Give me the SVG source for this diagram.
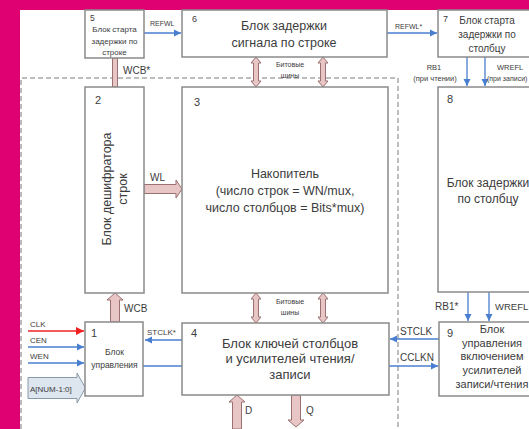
<svg xmlns="http://www.w3.org/2000/svg" width="529" height="429" viewBox="0 0 529 429">
<defs>
<style>
.box{fill:#fff;stroke:#8a8a8a;stroke-width:1.5}
.t{font-family:"Liberation Sans",Arial,sans-serif;fill:#3c3c3c}
.dash{fill:none;stroke:#a8a8a8;stroke-width:1.5;stroke-dasharray:5,3}
.blue{fill:none;stroke:#4a7fd0;stroke-width:1.3}
.red{fill:none;stroke:#f02020;stroke-width:1.5}
.pink{fill:#e8c6c6;stroke:#9a7070;stroke-width:1}
</style>
<marker id="ab" markerWidth="8" markerHeight="8" refX="7" refY="4" orient="auto" markerUnits="userSpaceOnUse">
<path d="M0,0.5 L7,4 L0,7.5 Z" fill="#4a7fd0"/>
</marker>
<marker id="ar" markerWidth="9" markerHeight="9" refX="8" refY="4.5" orient="auto" markerUnits="userSpaceOnUse">
<path d="M0,0.5 L8,4.5 L0,8.5 Z" fill="#f02020"/>
</marker>
</defs>
<rect x="0" y="0" width="529" height="429" fill="#df0072"/>
<rect x="20" y="10" width="509" height="419" fill="#ffffff"/>
<path class="dash" d="M21,429 V78 H398 V429"/>

<g id="connectors">
<line class="blue" x1="144" y1="33" x2="181" y2="33" marker-end="url(#ab)"/>
<text class="t" x="150" y="26" font-size="7">REFWL</text>
<line class="blue" x1="387" y1="33" x2="437" y2="33" marker-end="url(#ab)"/>
<text class="t" x="395" y="29" font-size="7">REFWL*</text>
<rect class="pink" x="112.5" y="58" width="5" height="29"/>
<text class="t" x="123" y="74" font-size="10">WCB*</text>
<path class="pink" d="M256,57 L261,63 L258.5,63 L258.5,81 L261,81 L256,87 L251,81 L253.5,81 L253.5,63 L251,63 Z"/>
<path class="pink" d="M323,57 L328,63 L325.5,63 L325.5,81 L328,81 L323,87 L318,81 L320.5,81 L320.5,63 L318,63 Z"/>
<text class="t" x="290" y="67" font-size="7" text-anchor="middle">Битовые</text>
<text class="t" x="290" y="78" font-size="7" text-anchor="middle">шины</text>
<path class="pink" d="M256,293 L261,299 L258.5,299 L258.5,317 L261,317 L256,323 L251,317 L253.5,317 L253.5,299 L251,299 Z"/>
<path class="pink" d="M323,293 L328,299 L325.5,299 L325.5,317 L328,317 L323,323 L318,317 L320.5,317 L320.5,299 L318,299 Z"/>
<text class="t" x="290" y="304" font-size="7" text-anchor="middle">Битовые</text>
<text class="t" x="290" y="315" font-size="7" text-anchor="middle">шины</text>
<path class="pink" d="M144,184.5 L176,184.5 L176,180 L182,189 L176,198 L176,193.5 L144,193.5 Z"/>
<text class="t" x="150" y="181" font-size="10">WL</text>
<path class="pink" d="M110.5,322 L110.5,300 L107,300 L115,293 L123,300 L119.5,300 L119.5,322 Z"/>
<text class="t" x="124" y="312" font-size="10">WCB</text>
<line class="blue" x1="467" y1="57" x2="467" y2="86" marker-end="url(#ab)"/>
<line class="blue" x1="485" y1="57" x2="485" y2="86" marker-end="url(#ab)"/>
<text class="t" x="434" y="70" font-size="7.5" text-anchor="middle">RB1</text>
<text class="t" x="435" y="81" font-size="7.5" text-anchor="middle">(при чтении)</text>
<text class="t" x="497" y="70" font-size="7.5">WREFL</text>
<text class="t" x="487" y="81" font-size="7">(при записи)</text>
<line class="blue" x1="468" y1="292" x2="468" y2="321" marker-end="url(#ab)"/>
<line class="blue" x1="489" y1="292" x2="489" y2="321" marker-end="url(#ab)"/>
<text class="t" x="435" y="310" font-size="10">RB1*</text>
<text class="t" x="495" y="310" font-size="9.5">WREFL</text>
<line class="red" x1="28" y1="331" x2="84" y2="331" marker-end="url(#ar)"/>
<text class="t" x="30" y="327" font-size="8">CLK</text>
<line class="blue" x1="28" y1="347" x2="84" y2="347" marker-end="url(#ab)"/>
<text class="t" x="30" y="343" font-size="8">CEN</text>
<line class="blue" x1="28" y1="363" x2="84" y2="363" marker-end="url(#ab)"/>
<text class="t" x="30" y="359" font-size="8">WEN</text>
<path d="M28,377.5 L77,377.5 L77,373 L85.5,388 L77,403 L77,398.5 L28,398.5 Z" fill="#dde5ef" stroke="#8a98ac" stroke-width="1"/>
<text class="t" x="30" y="391.5" font-size="8">A[NUM-1:0]</text>
<line class="blue" x1="182" y1="340" x2="145" y2="340" marker-end="url(#ab)"/>
<text class="t" x="147" y="335" font-size="8">STCLK*</text>
<line class="blue" x1="439" y1="339" x2="390" y2="339" marker-end="url(#ab)"/>
<text class="t" x="400" y="335" font-size="10">STCLK</text>
<line class="blue" x1="143" y1="366" x2="438" y2="366" marker-end="url(#ab)"/>
<text class="t" x="400" y="361" font-size="10">CCLKN</text>
<path class="pink" d="M232.5,429 L232.5,402 L229,402 L237,395 L245,402 L241.5,402 L241.5,429 Z"/>
<text class="t" x="245" y="414" font-size="10">D</text>
<path class="pink" d="M291.5,395 L291.5,420 L288,420 L296,427 L304,420 L300.5,420 L300.5,395 Z"/>
<text class="t" x="306" y="414" font-size="10">Q</text>
</g>

<g id="block5">
<rect class="box" x="85" y="10" width="59" height="48"/>
<text class="t" x="90" y="21" font-size="8.5">5</text>
<text class="t" x="114.5" y="32" font-size="8" text-anchor="middle">Блок старта</text>
<text class="t" x="114.5" y="44" font-size="8" text-anchor="middle">задержки по</text>
<text class="t" x="114.5" y="55" font-size="8" text-anchor="middle">строке</text>
</g>
<g id="block6">
<rect class="box" x="182" y="10" width="205" height="47"/>
<text class="t" x="192" y="22" font-size="9">6</text>
<text class="t" x="284" y="30" font-size="12.5" text-anchor="middle">Блок задержки</text>
<text class="t" x="284" y="47" font-size="12.5" text-anchor="middle">сигнала по строке</text>
</g>
<g id="block7">
<rect class="box" x="438" y="10" width="120" height="47"/>
<text class="t" x="443" y="22" font-size="9">7</text>
<text class="t" x="487" y="24" font-size="10" text-anchor="middle">Блок старта</text>
<text class="t" x="487" y="38" font-size="10" text-anchor="middle">задержки по</text>
<text class="t" x="487" y="52" font-size="10" text-anchor="middle">столбцу</text>
</g>
<g id="block2">
<rect class="box" x="85" y="87" width="59" height="206"/>
<text class="t" x="95" y="104" font-size="11">2</text>
<text class="t" transform="translate(111,189) rotate(-90)" font-size="12.5" text-anchor="middle">Блок дешифратора</text>
<text class="t" transform="translate(127,189) rotate(-90)" font-size="12.5" text-anchor="middle">строк</text>
</g>
<g id="block3">
<rect class="box" x="182" y="87" width="206" height="206"/>
<text class="t" x="194" y="106" font-size="11">3</text>
<text class="t" x="285" y="178" font-size="12.5" text-anchor="middle">Накопитель</text>
<text class="t" x="285" y="195" font-size="12.5" text-anchor="middle">(число строк = WN/mux,</text>
<text class="t" x="285" y="212" font-size="12.5" text-anchor="middle">число столбцов = Bits*mux)</text>
</g>
<g id="block8">
<rect class="box" x="438" y="87" width="120" height="205"/>
<text class="t" x="447" y="103" font-size="11">8</text>
<text class="t" x="488" y="187" font-size="12" text-anchor="middle">Блок задержки</text>
<text class="t" x="488" y="203" font-size="12" text-anchor="middle">по столбцу</text>
</g>
<g id="block1">
<rect class="box" x="85" y="322" width="58" height="74"/>
<text class="t" x="91" y="337" font-size="11">1</text>
<text class="t" x="114.5" y="355" font-size="8.5" text-anchor="middle">Блок</text>
<text class="t" x="114.5" y="368" font-size="8.5" text-anchor="middle">управления</text>
</g>
<g id="block4">
<rect class="box" x="182" y="323" width="207" height="72"/>
<text class="t" x="191" y="337" font-size="11">4</text>
<text class="t" x="290" y="347.5" font-size="13" text-anchor="middle">Блок ключей столбцов</text>
<text class="t" x="290" y="363" font-size="13" text-anchor="middle">и усилителей чтения/</text>
<text class="t" x="290" y="378.5" font-size="13" text-anchor="middle">записи</text>
</g>
<g id="block9">
<rect class="box" x="439" y="322" width="120" height="74"/>
<text class="t" x="447" y="337" font-size="11">9</text>
<text class="t" x="492" y="333" font-size="11" text-anchor="middle">Блок</text>
<text class="t" x="492" y="347" font-size="11" text-anchor="middle">управления</text>
<text class="t" x="492" y="360" font-size="11" text-anchor="middle">включением</text>
<text class="t" x="492" y="374" font-size="11" text-anchor="middle">усилителей</text>
<text class="t" x="492" y="388" font-size="11" text-anchor="middle">записи/чтения</text>
</g>
</svg>
